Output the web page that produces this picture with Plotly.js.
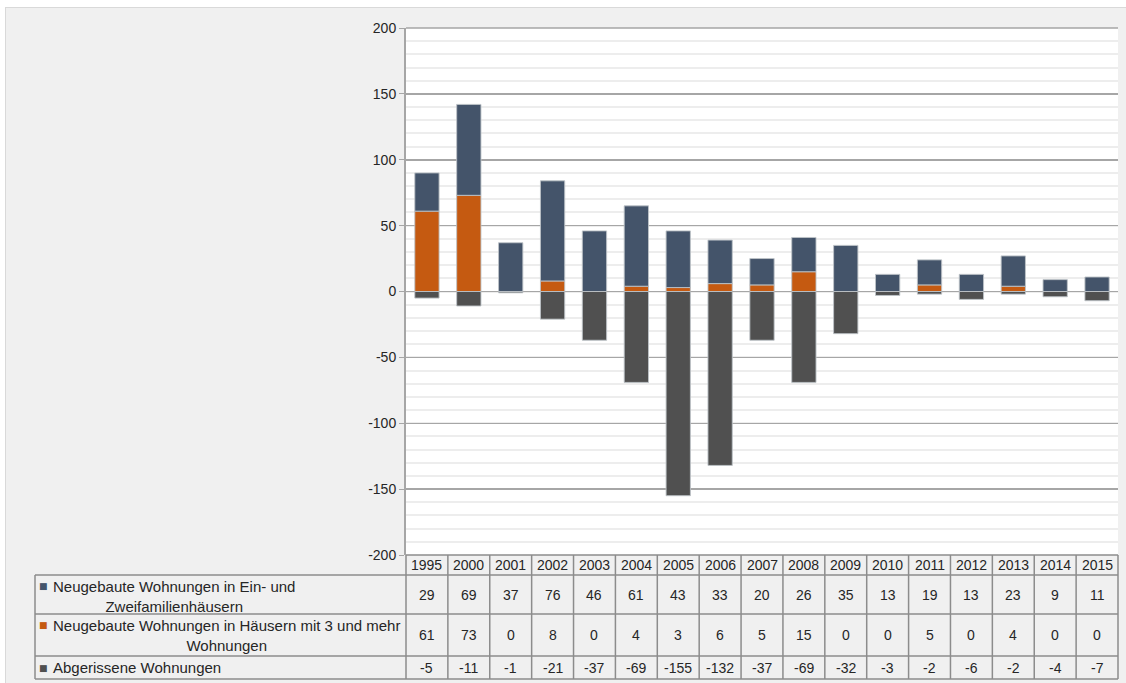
<!DOCTYPE html>
<html>
<head>
<meta charset="utf-8">
<script src="https://cdn.plot.ly/plotly-3.0.1.min.js"></script>
<style>
  body { margin: 0; background: #ffffff; }
  #frame { position: absolute; left: 5px; top: 7px; border: 1px solid #d9d9d9; }
  #chart { width: 1120px; height: 675px; }
</style>
</head>
<body>
<div id="frame"><div id="chart"></div></div>
<script>
// Wohnungen: Neubau und Abriss
const years = ["1995", "2000", "2001", "2002", "2003", "2004", "2005", "2006", "2007",
  "2008", "2009", "2010", "2011", "2012", "2013", "2014", "2015"];
const einZwei = [29, 69, 37, 76, 46, 61, 43, 33, 20, 26, 35, 13, 19, 13, 23, 9, 11];
const mehr = [61, 73, 0, 8, 0, 4, 3, 6, 5, 15, 0, 0, 5, 0, 4, 0, 0];
const abgerissen = [-5, -11, -1, -21, -37, -69, -155, -132, -37, -69, -32, -3, -2, -6, -2, -4, -7];

const nameEinZwei = "Neugebaute Wohnungen in Ein- und<br>Zweifamilienhäusern";
const nameMehr = "Neugebaute Wohnungen in Häusern mit 3 und mehr<br>Wohnungen";
const nameAbriss = "Abgerissene Wohnungen";

const yTicks = [-200, -150, -100, -50, 0, 50, 100, 150, 200];

const cNavy = "#44546a";
const cOrange = "#c55a11";
const cGrey = "#505050";

const edge = { color: "rgba(190,195,200,0.9)", width: 1 };

const data = [
  { x: years, y: mehr, type: "bar", name: "mehr", marker: { color: cOrange, line: edge } },
  { x: years, y: einZwei, type: "bar", name: "einzwei", marker: { color: cNavy, line: edge } },
  { x: years, y: abgerissen, type: "bar", name: "abriss", marker: { color: cGrey, line: edge } }
];

// table geometry (pixels below the plot area)
const plotW = 712, plotH = 527;
const rowEdges = [0, 20, 59, 101, 124];
const py = d => -d / plotH;
const leftX = -371 / plotW;
const n = years.length;
const lineStyle = { color: "#8c8c8c", width: 1.5 };

const shapes = [];
// top border of plot area
shapes.push({ type: "line", xref: "paper", yref: "paper", x0: 0, x1: 1, y0: 1, y1: 1,
  line: { color: "#a6a6a6", width: 1.5 } });
// vertical lines between columns
for (let i = 0; i <= n; i++) {
  shapes.push({ type: "line", xref: "paper", yref: "paper", x0: i / n, x1: i / n,
    y0: 0, y1: py(rowEdges[4]), line: lineStyle });
}
// horizontal lines
shapes.push({ type: "line", xref: "paper", yref: "paper", x0: 0, x1: 1, y0: 0, y1: 0, line: lineStyle });
for (let r = 1; r < rowEdges.length; r++) {
  shapes.push({ type: "line", xref: "paper", yref: "paper", x0: leftX, x1: 1,
    y0: py(rowEdges[r]), y1: py(rowEdges[r]), line: lineStyle });
}
shapes.push({ type: "line", xref: "paper", yref: "paper", x0: leftX, x1: leftX,
  y0: py(rowEdges[1]), y1: py(rowEdges[4]), line: lineStyle });

const numFont = { family: "Liberation Sans, Arial, sans-serif", size: 14, color: "#262626" };
const lblFont = { family: "Liberation Sans, Arial, sans-serif", size: 15, color: "#262626" };
const annotations = [];
const rows = [einZwei, mehr, abgerissen];
years.forEach((yr, i) => {
  annotations.push({ x: i, xref: "x", y: py((rowEdges[0] + rowEdges[1]) / 2), yref: "paper",
    xanchor: "center", yanchor: "middle", text: yr, showarrow: false, font: numFont });
  rows.forEach((vals, r) => {
    annotations.push({ x: i, xref: "x", y: py((rowEdges[r + 1] + rowEdges[r + 2]) / 2), yref: "paper",
      xanchor: "center", yanchor: "middle", text: String(vals[i]), showarrow: false, font: numFont });
  });
});
const labels = [[nameEinZwei, cNavy], [nameMehr, cOrange], [nameAbriss, cGrey]];
labels.forEach(([lbl, col], r) => {
  const single = r === 2;
  const yPos = single ? py((rowEdges[r + 1] + rowEdges[r + 2]) / 2) : py(rowEdges[r + 1] + 1);
  annotations.push({ x: leftX + 16 / plotW, xref: "paper", y: yPos, yref: "paper",
    xanchor: "left", yanchor: single ? "middle" : "top", text: lbl, align: "center",
    showarrow: false, font: lblFont });
  annotations.push({ x: leftX + 2 / plotW, xref: "paper", y: yPos, yref: "paper",
    xanchor: "left", yanchor: single ? "middle" : "top", text: "■", showarrow: false,
    yshift: single ? 0 : -3, font: { family: "DejaVu Sans, sans-serif", size: 9, color: col } });
});

const layout = {
  width: 1120,
  height: 675,
  margin: { l: 400, r: 8, t: 20, b: 128 },
  paper_bgcolor: "#f0f0f0",
  plot_bgcolor: "#ffffff",
  barmode: "relative",
  bargap: 0.42,
  showlegend: false,
  font: numFont,
  xaxis: {
    type: "category",
    range: [-0.5, n - 0.5],
    showticklabels: false,
    showgrid: false,
    zeroline: false,
    ticks: ""
  },
  yaxis: {
    range: [-200, 200],
    tickvals: yTicks,
    ticktext: yTicks.map(String),
    ticks: "outside",
    ticklen: 5,
    tickcolor: "#a6a6a6",
    tickfont: { family: "Liberation Sans, Arial, sans-serif", size: 14, color: "#262626" },
    showline: true,
    linecolor: "#a6a6a6",
    linewidth: 2,
    gridcolor: "#a6a6a6",
    gridwidth: 1.5,
    zeroline: true,
    zerolinecolor: "#a6a6a6",
    zerolinewidth: 1.5,
    minor: { dtick: 10, showgrid: true, gridcolor: "#ededed", gridwidth: 2 }
  },
  shapes: shapes,
  annotations: annotations
};

Plotly.newPlot("chart", data, layout, { displayModeBar: false, staticPlot: true });
</script>
</body>
</html>
